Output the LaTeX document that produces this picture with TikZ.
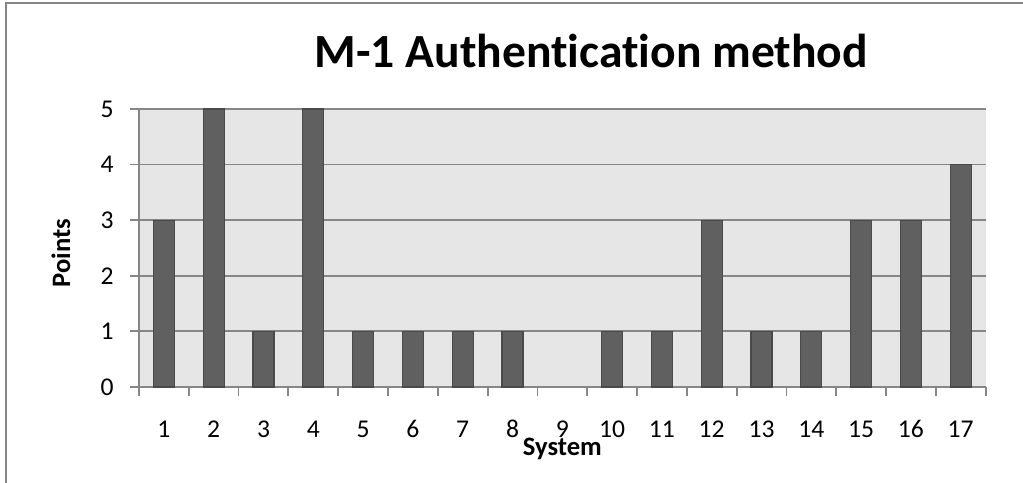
\documentclass[tikz,border=0pt]{standalone}
\usepackage{fontspec}
\setmainfont{Carlito}[Ligatures=NoCommon]
\usepackage{xcolor}
\usepackage{tikz}
\usetikzlibrary{positioning}

\definecolor{plotbg}{HTML}{E6E6E6}
\definecolor{gridgray}{HTML}{868686}
\definecolor{bargray}{HTML}{606060}
\definecolor{baredge}{HTML}{4A4A4A}

\tikzset{
  ticklabel/.style={inner sep=0pt, font=\fontsize{12.8}{15}\selectfont},
  axistitle/.style={inner sep=0pt, font=\fontsize{13.3}{16}\selectfont\bfseries},
  gridline/.style={gridgray, line width=0.9pt},
  bar/.style={fill=bargray, draw=baredge, line width=0.6pt}
}

\begin{document}
\begin{tikzpicture}[x=24.9pt, y=27.8pt]
        \useasboundingbox (-2.791,-1.709) rectangle (17.751,6.960);
        \clip (-2.791,-1.709) rectangle (17.751,6.960);

        % Chart frame
        \draw[gridgray, line width=1pt] (-2.671,-3) -- (-2.671,6.906) -- (19,6.906);

        % Plot area and grid
        \fill[plotbg] (0,0) rectangle (17,5);
        \foreach \y in {0,...,5} {
            \draw[gridline] (-0.18,\y) -- (17,\y);
            \node[ticklabel, anchor=east] (yl\y) at (-0.5,\y) {\y};
        }
        \draw[gridline] (0,-0.16) -- (0,5);
        \foreach \x in {1,...,17} {
            \draw[gridline] (\x,0) -- (\x,-0.16);
            \node[ticklabel, anchor=base] (xl\x) at (\x-0.5,-0.917) {\x};
        }

        % Points per system (system 9 has none)
        \foreach \x/\y in {1/3, 2/5, 3/1, 4/5, 5/1, 6/1, 7/1, 8/1, 10/1,
                           11/1, 12/3, 13/1, 14/1, 15/3, 16/3, 17/4} {
            \draw[bar] (\x-0.71,0) rectangle (\x-0.29,\y);
        }

        % Titles
        \node[axistitle, anchor=base] (xtitle) at (8.5,-1.241) {System};
        \node[axistitle, rotate=90] (ytitle) at (-1.566,2.41) {Points};
        \node[inner sep=0pt, anchor=base, font=\fontsize{23.8}{28}\selectfont\bfseries]
            (title) at (9.08,5.737) {M-1 Authentication method};

    \end{tikzpicture}
\end{document}
